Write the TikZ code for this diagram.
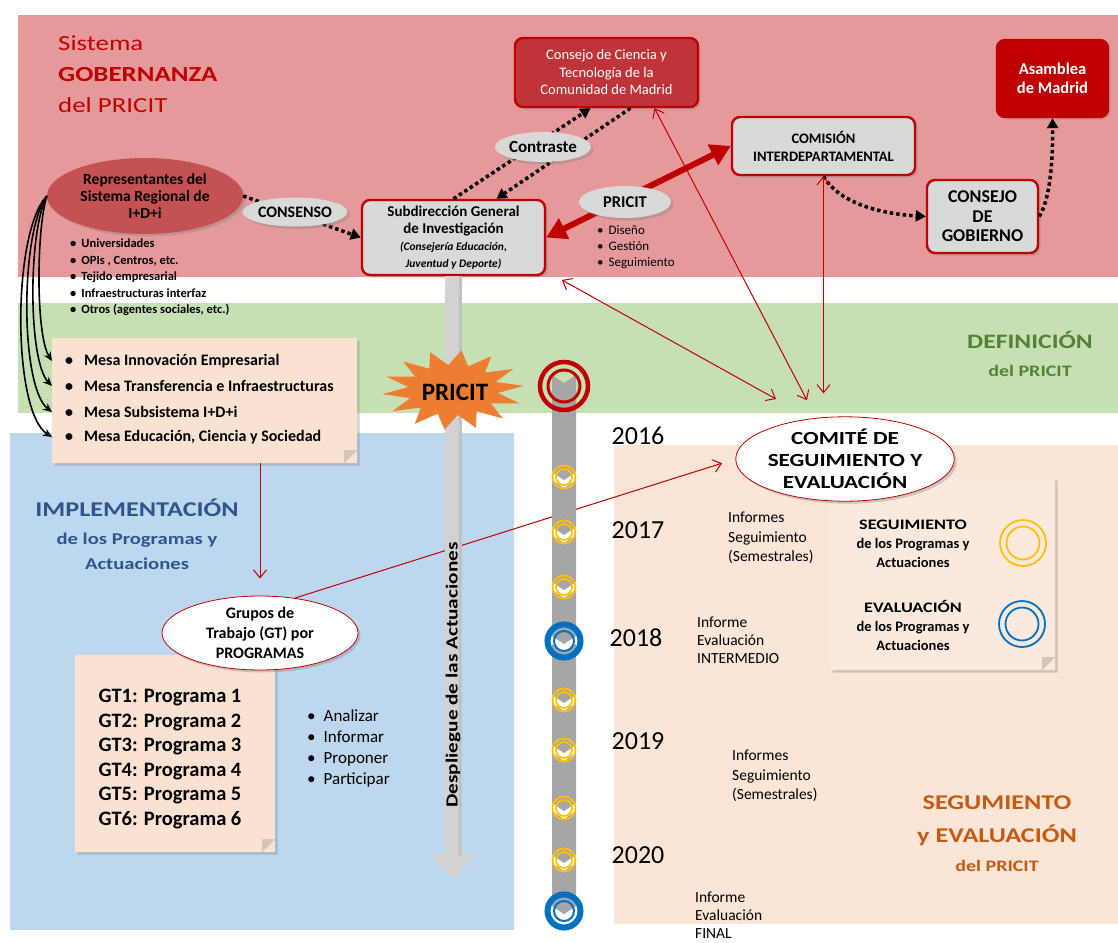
\documentclass[tikz,border=0pt]{standalone}
\usepackage{fontspec}
\setmainfont{Carlito}
\newfontfamily\widefont[FakeStretch=1.25]{Carlito}
\usetikzlibrary{arrows.meta,shapes.geometric,shapes.misc,shadows}

\definecolor{govband}{RGB}{230,153,154}
\definecolor{defband}{RGB}{198,224,180}
\definecolor{impband}{RGB}{189,215,238}
\definecolor{segband}{RGB}{251,229,214}
\definecolor{notefill}{RGB}{250,226,210}
\definecolor{legendfill}{RGB}{252,233,221}
\definecolor{foldtone}{RGB}{214,196,182}
\definecolor{darkred}{RGB}{192,0,0}
\definecolor{reprred}{RGB}{196,82,82}
\definecolor{cienciared}{RGB}{190,52,56}
\definecolor{boxgray}{RGB}{217,217,217}
\definecolor{stargold}{RGB}{237,125,49}
\definecolor{ringyellow}{RGB}{255,192,0}
\definecolor{ringblue}{RGB}{0,112,192}
\definecolor{linegray}{RGB}{166,166,166}
\definecolor{arrowgray}{RGB}{210,210,210}
\definecolor{defgreen}{RGB}{84,130,53}
\definecolor{impblue}{RGB}{47,85,140}
\definecolor{segorange}{RGB}{197,90,17}

\tikzset{
  shadowed/.style={drop shadow={shadow xshift=2.5pt,shadow yshift=-2.5pt,opacity=.35}},
  govbox/.style={draw=darkred,line width=2.4pt,rounded corners=8pt,fill=boxgray,align=center,inner sep=0pt,shadowed},
  labeltag/.style={ellipse,fill=boxgray,inner sep=0pt,shadowed},
  bubble/.style={ellipse,draw=darkred,line width=.8pt,fill=white,align=center,inner sep=0pt,shadowed},
  notebox/.style={chamfered rectangle,chamfered rectangle corners=south east,chamfered rectangle sep=13pt,fill=notefill,inner sep=0pt,shadowed},
  mesaitem/.style={anchor=west,inner xsep=13pt,inner ysep=0pt,font=\bfseries\fontsize{16}{18}\selectfont},
  yearlabel/.style={font=\fontsize{26}{28}\selectfont},
  informe/.style={anchor=north west,align=left,inner sep=0pt,font=\fontsize{15.5}{19.5}\selectfont},
  dotarrow/.style={line width=3.5pt,dash pattern=on 3.5pt off 3pt,-{Triangle[length=10pt,width=11pt]}},
  bigred/.style={darkred,line width=6pt,{Triangle[length=20pt,width=22pt]}-{Triangle[length=20pt,width=22pt]}},
  thinred/.style={darkred,line width=1pt,{Straight Barb[length=8pt,width=13pt]}-{Straight Barb[length=8pt,width=13pt]}},
  redarrow/.style={darkred,line width=1pt,-{Straight Barb[length=8pt,width=13pt]}},
  mesalink/.style={line width=1.6pt,-{Stealth[length=9pt,width=8pt]}},
  desplarrow/.style={arrowgray,line width=17pt,-{Triangle[length=24pt,width=44pt]}},
  yring/.style={ringyellow,line width=1.8pt},
}

\begin{document}
\begin{tikzpicture}[x=1pt,y=1pt]
    \useasboundingbox (0,0) rectangle (1118,-942);

    % bandas
    \fill[govband] (18,-15) rectangle (1118,-277);
    \fill[defband] (18,-303) rectangle (1118,-413);
    \fill[impband] (10,-433) rectangle (514,-930);
    \fill[segband] (614,-445) rectangle (1118,-924);

    \node[anchor=west,align=left,inner sep=0pt,text=darkred,font=\widefont\fontsize{21.5}{31}\selectfont] (tgov) at (58,-74)
      {Sistema\\\textbf{GOBERNANZA}\\del PRICIT};
    \node[align=center,text=defgreen,font=\widefont\bfseries\fontsize{20.5}{28}\selectfont] (tdef) at (1030,-354)
      {DEFINICIÓN\\\fontsize{16}{28}\selectfont del PRICIT};
    \node[text=impblue,font=\widefont\bfseries\fontsize{21}{25}\selectfont] (timp) at (137,-508) {IMPLEMENTACIÓN};
    \node[align=center,text=impblue,font=\widefont\bfseries\fontsize{16.5}{25}\selectfont] (timpsub) at (137,-551)
      {de los Programas y\\Actuaciones};
    \node[align=center,text=segorange,font=\widefont\bfseries\fontsize{21}{33}\selectfont] (tseg) at (997,-821)
      {SEGUMIENTO\\y EVALUACIÓN};
    \node[text=segorange,font=\widefont\bfseries\fontsize{16}{20}\selectfont] (tsegdel) at (997,-866) {del PRICIT};

    % gobernanza
    \node[ellipse,fill=reprred,minimum width=196pt,minimum height=76pt,inner sep=0pt,align=center,
      font=\bfseries\fontsize{15.5}{17}\selectfont,shadowed] (repr) at (145,-196)
      {Representantes del\\Sistema Regional de\\I+D+i};
    \node[anchor=north west,align=left,inner sep=0pt,font=\bfseries\fontsize{12.5}{16.5}\selectfont] (agentes) at (70,-239)
      {\textbullet\hspace{5pt}Universidades\\\textbullet\hspace{5pt}OPIs , Centros, etc.\\\textbullet\hspace{5pt}Tejido empresarial\\
       \textbullet\hspace{5pt}Infraestructuras interfaz\\\textbullet\hspace{5pt}Otros (agentes sociales, etc.)};
    \node[govbox,minimum width=183pt,minimum height=75pt,font=\bfseries\fontsize{15}{17}\selectfont] (subdir) at (453.5,-237.5)
      {Subdirección General\\de Investigación\\
       \fontsize{11.5}{15}\selectfont\itshape (Consejería Educación,\\\fontsize{11.5}{15}\selectfont\itshape Juventud y Deporte)};
    \node[govbox,fill=cienciared,text=white,minimum width=183pt,minimum height=69pt,font=\fontsize{14.5}{17.5}\selectfont] (consejo) at (606.5,-72.5)
      {Consejo de Ciencia y\\Tecnología de la\\Comunidad de Madrid};
    \node[govbox,minimum width=183pt,minimum height=58pt,font=\bfseries\fontsize{14.5}{18}\selectfont] (comision) at (823.5,-146)
      {COMISIÓN\\INTERDEPARTAMENTAL};
    \node[govbox,minimum width=111pt,minimum height=73pt,font=\bfseries\fontsize{18}{19.5}\selectfont] (cgob) at (982.5,-216.5)
      {CONSEJO\\DE\\GOBIERNO};
    \node[govbox,fill=darkred,text=white,minimum width=111pt,minimum height=77pt,font=\bfseries\fontsize{16.5}{18.5}\selectfont] (asamblea) at (1052.5,-78.5)
      {Asamblea\\de Madrid};

    % mesas
    \node[notebox,minimum width=305pt,minimum height=125pt] (mesa) at (204.5,-400.5) {};
    \coordinate (mesacorner) at (mesa.south -| mesa.east);
    \fill[foldtone] ([yshift=13pt]mesacorner) -- ([xshift=-13pt]mesacorner) -- ([xshift=-13pt,yshift=13pt]mesacorner) -- cycle;
    \node[mesaitem] (mesa1) at (52,-361) {\textbullet\hspace{11pt}Mesa Innovación Empresarial};
    \node[mesaitem] (mesa2) at (52,-386) {\textbullet\hspace{11pt}Mesa Transferencia e Infraestructuras};
    \node[mesaitem] (mesa3) at (52,-412) {\textbullet\hspace{11pt}Mesa Subsistema I+D+i};
    \node[mesaitem] (mesa4) at (52,-437) {\textbullet\hspace{11pt}Mesa Educación, Ciencia y Sociedad};

    % implementacion
    \node[notebox,minimum width=200pt,minimum height=197pt] (gtbox) at (175,-753.5) {};
    \coordinate (gtcorner) at (gtbox.south -| gtbox.east);
    \fill[foldtone] ([yshift=13pt]gtcorner) -- ([xshift=-13pt]gtcorner) -- ([xshift=-13pt,yshift=13pt]gtcorner) -- cycle;
    \node[align=left,font=\bfseries\fontsize{20.5}{24.6}\selectfont] (gtlist) at (170,-759)
      {GT1: Programa 1\\GT2: Programa 2\\GT3: Programa 3\\GT4: Programa 4\\GT5: Programa 5\\GT6: Programa 6};
    \node[bubble,minimum width=196pt,minimum height=74pt,font=\bfseries\fontsize{16}{20}\selectfont] (grupos) at (260,-633)
      {Grupos de\\Trabajo (GT) por\\PROGRAMAS};
    \node[anchor=west,align=left,inner sep=0pt,font=\fontsize{17}{21}\selectfont] (tareas) at (307,-748)
      {\textbullet\hspace{8pt}Analizar\\\textbullet\hspace{8pt}Informar\\\textbullet\hspace{8pt}Proponer\\\textbullet\hspace{8pt}Participar};

    % seguimiento
    \node[notebox,fill=legendfill,minimum width=225pt,minimum height=192pt] (legend) at (942.5,-574) {};
    \coordinate (lgcorner) at (legend.south -| legend.east);
    \fill[foldtone] ([yshift=13pt]lgcorner) -- ([xshift=-13pt]lgcorner) -- ([xshift=-13pt,yshift=13pt]lgcorner) -- cycle;
    \node[align=center,font=\bfseries\fontsize{14.5}{19}\selectfont] (lgseg) at (913,-544)
      {{\widefont SEGUIMIENTO}\\de los Programas y\\Actuaciones};
    \node[align=center,font=\bfseries\fontsize{14.5}{19}\selectfont] (lgeval) at (913,-625)
      {{\widefont EVALUACIÓN}\\de los Programas y\\Actuaciones};
    \draw[yring] (1023,-543) circle (23) (1023,-543) circle (16.5);
    \draw[ringblue,line width=1.8pt] (1022,-624) circle (23) (1022,-624) circle (16.5);
    \node[bubble,minimum width=192pt,minimum height=76pt,font=\widefont\bfseries\fontsize{18.5}{22}\selectfont] (comite) at (845,-459)
      {COMITÉ DE\\SEGUIMIENTO Y\\EVALUACIÓN};

    \draw[redarrow,shorten >=14pt] (grupos.45) -- (comite.west);

    % despliegue
    \coordinate (desplend) at (453,-879);
    \draw[desplarrow] (subdir.south) -- (desplend);
    \draw[linegray!70,line width=3pt] ([xshift=7pt]subdir.south) -- ([xshift=7pt,yshift=24pt]desplend);
    \node[rotate=90,font=\widefont\bfseries\fontsize{17}{20}\selectfont] (despl) at (453,-675) {Despliegue de las Actuaciones};
    \fill[stargold] plot[variable=\k,samples at={0,...,27}]
      ({453+ifthenelse(mod(\k,2)==0,71,45)*cos(\k*360/28+6)},{-390+ifthenelse(mod(\k,2)==0,40,25)*sin(\k*360/28+6)}) -- cycle;
    \node[font=\bfseries\fontsize{25}{27}\selectfont] (pricitstar) at (455,-392) {PRICIT};

    % cronograma
    \foreach \a/\b in {372/477,477/532,532/587,587/641,641/700,700/750,750/808,808/860,860/911}
      \fill[linegray] (552,-\a-3) -- (564,-\a-11) -- (576,-\a-3) -- (576,-\b+5) -- (564,-\b-3) -- (552,-\b+5) -- cycle;
    \draw[darkred,line width=4.5pt] (564,-386) circle (24);
    \draw[darkred,line width=3pt] (564,-386) circle (16);
    \foreach \y in {477,532,587,700,750,808,860}
      \draw[yring] (564,-\y) circle (11.5) (564,-\y) circle (8);
    \foreach \y in {641,911} {
      \draw[ringblue,line width=6pt] (564,-\y) circle (16.5);
      \draw[ringblue,line width=2pt] (564,-\y) circle (10);
    }
    \node[yearlabel] (y2016) at (638,-436) {2016};
    \node[yearlabel] (y2017) at (638,-530) {2017};
    \node[yearlabel] (y2018) at (636,-638) {2018};
    \node[yearlabel] (y2019) at (638,-741) {2019};
    \node[yearlabel] (y2020) at (638,-855) {2020};
    \node[informe] (inf1) at (728,-512) {Informes\\Seguimiento\\(Semestrales)};
    \node[informe,font=\fontsize{15.5}{18}\selectfont] (inf2) at (697,-617) {Informe\\Evaluación\\INTERMEDIO};
    \node[informe] (inf3) at (732,-750) {Informes\\Seguimiento\\(Semestrales)};
    \node[informe,font=\fontsize{15.5}{18}\selectfont] (inf4) at (695,-892) {Informe\\Evaluación\\FINAL};

    % conectores
    \foreach \m/\cx/\ty in {mesa1/36/361,mesa2/28/386,mesa3/20/412,mesa4/12/437}
      \draw[mesalink] (repr.west) .. controls (\cx,-232) and (\cx,-\ty+25) .. (\m.west);
    \draw[dotarrow] (repr.east) -- (subdir.west);
    \draw[dotarrow] (subdir.north) -- ([xshift=-16pt]consejo.south);
    \draw[dotarrow] ([xshift=24pt]consejo.south) -- ([xshift=43pt]subdir.north);
    \draw[dotarrow] (comision.south) .. controls (840,-205) and (885,-214) .. (cgob.west);
    \draw[dotarrow] (cgob.east) .. controls (1050,-200) and (1053,-160) .. (asamblea.south);
    \draw[bigred] (subdir.east) -- (comision.west);
    \draw[thinred,shorten >=20pt] ([xshift=48pt]consejo.south) -- (comite.125);
    \draw[thinred,shorten <=18pt,shorten >=40pt] (subdir.-20) -- (comite.130);
    \draw[thinred,shorten >=23pt] (comision.south) -- (comision.south |- comite.north);
    \draw[redarrow,shorten >=17pt] (mesa.south -| grupos.north) -- (grupos.north);

    \node[labeltag,minimum width=86pt,minimum height=29pt,font=\bfseries\fontsize{16}{18}\selectfont] (consenso) at (295,-212) {CONSENSO};
    \node[labeltag,minimum width=90pt,minimum height=30pt,font=\bfseries\fontsize{17}{19}\selectfont] (contraste) at (543,-147) {Contraste};
    \node[labeltag,minimum width=92pt,minimum height=32pt,font=\bfseries\fontsize{16.5}{18}\selectfont] (pricit) at (625,-202) {PRICIT};
    \node[anchor=north west,align=left,inner sep=0pt,font=\fontsize{13}{16}\selectfont] (pricittareas) at (597,-225)
      {\textbullet\hspace{5pt}Diseño\\\textbullet\hspace{5pt}Gestión\\\textbullet\hspace{5pt}Seguimiento};
\end{tikzpicture}
\end{document}
